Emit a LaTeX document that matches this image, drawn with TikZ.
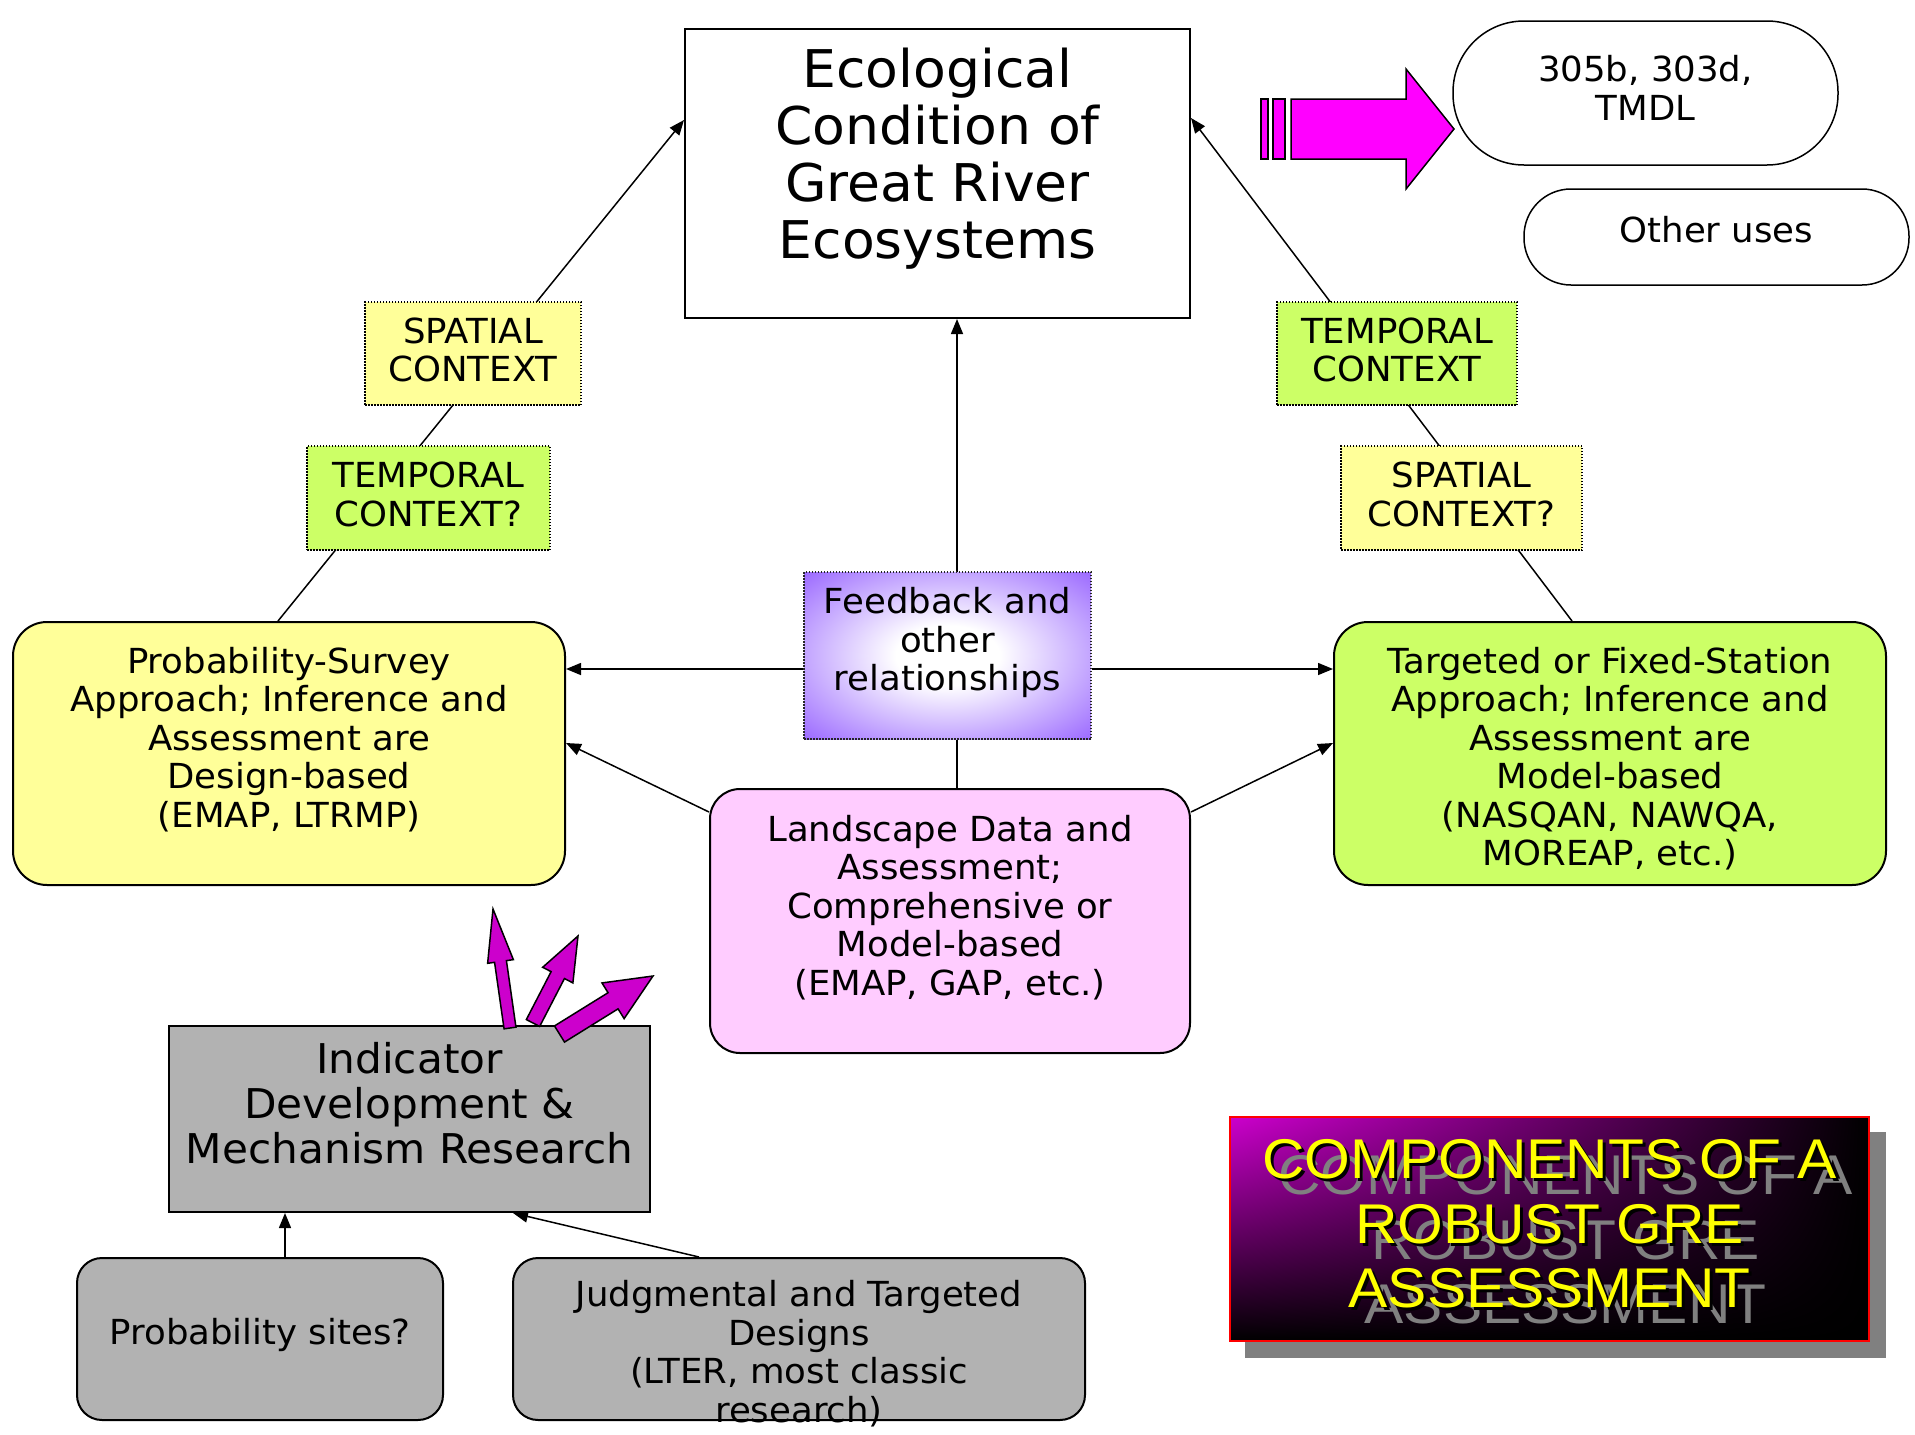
\documentclass[tikz,border=0pt]{standalone}
\usepackage{fontspec}
\setmainfont[FakeStretch=1.03]{DejaVu Sans}
\newfontfamily\titlefont[FakeStretch=1.05]{Liberation Sans}
\usetikzlibrary{arrows.meta,calc,shadings}
\pgfdeclarelayer{bg}
\pgfdeclarelayer{lines}
\pgfsetlayers{bg,lines,main}
\definecolor{yel}{HTML}{FFFF99}
\definecolor{grn}{HTML}{CCFF66}
\definecolor{pnk}{HTML}{FFCCFF}
\definecolor{gry}{HTML}{B2B2B2}
\definecolor{mag}{HTML}{FF00FF}
\definecolor{dmag}{HTML}{CC00CC}
\definecolor{fbp}{HTML}{9966FF}
\definecolor{ttlmag}{HTML}{CC00CC}
\definecolor{ttlyel}{HTML}{FFFF00}
\definecolor{shadowgray}{HTML}{808080}
\pgfdeclareradialshading{fbshade}{\pgfpoint{0bp}{0bp}}{color(0bp)=(white); color(9bp)=(white); color(36bp)=(fbp); color(50bp)=(fbp)}
\newcommand\blockarrow[5]{%
  \coordinate (bah) at ($(#2)!#5pt!(#1)$);
  \draw[magarrow] ($(#1)!#3pt!90:(#2)$) -- ($(bah)!#3pt!90:(#2)$) -- ($(bah)!#4pt!90:(#2)$) -- (#2)
    -- ($(bah)!#4pt!-90:(#2)$) -- ($(bah)!#3pt!-90:(#2)$) -- ($(#1)!#3pt!-90:(#2)$) -- cycle;}
\tikzset{
  arr/.style={line width=1.5pt,-{Triangle[length=15pt,width=12pt]}},
  boxbase/.style={draw=black,line width=2pt,inner sep=0pt},
  rbox/.style={boxbase,rounded corners=34pt},
  gbox/.style={boxbase,rounded corners=25pt,fill=gry},
  ctx/.style={draw=black,line width=1.5pt,dash pattern=on 1.5pt off 1.5pt,inner sep=0pt},
  txt/.style={align=center,font=\fontsize{34.5pt}{38.5pt}\selectfont,inner sep=0pt},
  bigtxt/.style={align=center,font=\fontsize{52pt}{57pt}\selectfont,inner sep=0pt},
  midtxt/.style={align=center,font=\fontsize{41pt}{45pt}\selectfont,inner sep=0pt},
  ttltxt/.style={align=center,font=\titlefont\fontsize{56pt}{64.5pt}\selectfont,inner sep=0pt},
  magarrow/.style={draw=black,line width=1.5pt,fill=dmag,line join=miter},
  sz/.style 2 args={minimum width=#1pt,minimum height=#2pt},
}
\begin{document}
\begin{tikzpicture}[x=1pt,y=-1pt]
\useasboundingbox (0,0) rectangle (1915,1435);
\begin{pgfonlayer}{bg}
\fill[white] (0,0) rectangle (1915,1435);
\end{pgfonlayer}

% main box
\node[boxbase,fill=white,sz={505}{289}] (eco) at (937.5,173.5) {};
\node[bigtxt] (ecot) at ([yshift=15pt]eco.center) {Ecological\\Condition of\\Great River\\Ecosystems};

% pills
\node[boxbase,line width=1.5pt,fill=white,rounded corners=71pt,sz={385}{144}] (p305) at (1645.5,93) {};
\node[txt] (p305t) at ([yshift=5pt]p305.center) {305b, 303d,\\TMDL};
\node[boxbase,line width=1.5pt,fill=white,rounded corners=47pt,sz={385}{96}] (other) at (1716.5,237) {};
\node[txt] (othert) at ([yshift=7pt]other.center) {Other uses};

% big magenta arrow
\fill[mag,draw=black,line width=1.5pt] (1261,99) rectangle (1268,159);
\fill[mag,draw=black,line width=1.5pt] (1273,99) rectangle (1285,159);
\draw[fill=mag,line width=1.5pt,line join=miter] (1291,99) -- (1406,99) -- (1406,69) -- (1454,129) -- (1406,189) -- (1406,159) -- (1291,159) -- cycle;

% context labels
\node[ctx,fill=yel,sz={216}{103}] (sc1) at (473,353.5) {};
\node[txt] (sc1t) at ([yshift=3.5pt]sc1.center) {SPATIAL\\CONTEXT};
\node[ctx,fill=grn,sz={243}{104}] (tc1) at (428.5,498) {};
\node[txt] (tc1t) at ([yshift=3.5pt]tc1.center) {TEMPORAL\\CONTEXT?};
\node[ctx,fill=grn,sz={240}{103}] (tc2) at (1397,353.5) {};
\node[txt] (tc2t) at ([yshift=3.5pt]tc2.center) {TEMPORAL\\CONTEXT};
\node[ctx,fill=yel,sz={241}{104}] (sc2) at (1461.5,498) {};
\node[txt] (sc2t) at ([yshift=3.5pt]sc2.center) {SPATIAL\\CONTEXT?};

% approach boxes
\node[rbox,fill=yel,sz={552}{263}] (ps) at (289,753.5) {};
\node[txt] (pst) at ([yshift=14pt]ps.center) {Probability-Survey\\Approach; Inference and\\Assessment are\\Design-based\\(EMAP, LTRMP)};
\node[rbox,fill=grn,sz={552}{263}] (tg) at (1610,753.5) {};
\node[txt] (tgt) at ([yshift=-5pt]tg.center) {Targeted or Fixed-Station\\Approach; Inference and\\Assessment are\\Model-based\\(NASQAN, NAWQA,\\MOREAP, etc.)};

% feedback
\node[ctx,draw=black!85,shade,shading=fbshade,sz={287}{167}] (fb) at (947.5,655.5) {};
\node[txt] (fbt) at ([yshift=13pt]fb.center) {Feedback and\\other\\relationships};

% landscape
\node[rbox,rounded corners=30pt,fill=pnk,sz={480}{264}] (ls) at (950,921) {};
\node[txt] (lst) at ([yshift=13.5pt]ls.center) {Landscape Data and\\Assessment;\\Comprehensive or\\Model-based\\(EMAP, GAP, etc.)};

% indicator
\node[boxbase,fill=gry,sz={481}{186}] (ind) at (409.5,1119) {};
\node[midtxt] (indt) at ([yshift=16pt]ind.center) {Indicator\\Development \&\\Mechanism Research};

% bottom boxes
\node[gbox,sz={366}{162}] (psites) at (260,1339) {};
\node[txt] (psitest) at ([yshift=4pt]psites.center) {Probability sites?};
\node[gbox,sz={572}{162}] (jd) at (799,1339) {};
\node[txt] (jdt) at ([yshift=-14.5pt]jd.center) {Judgmental and Targeted\\Designs\\(LTER, most classic\\research)};

% small magenta arrows
\coordinate (a1b) at (510,1028); \coordinate (a1t) at (493,909);
\coordinate (a2b) at (533,1023); \coordinate (a2t) at (578,936);
\coordinate (a3b) at (559.5,1034); \coordinate (a3t) at (653,976);
\blockarrow{a1b}{a1t}{6}{13}{53}
\blockarrow{a2b}{a2t}{7.5}{17}{44}
\blockarrow{a3b}{a3t}{9.5}{21}{47}

% title box
\node[draw=red,line width=2pt,inner sep=0pt,upper left=ttlmag,upper right=black,lower left=black,lower right=black,sz={639}{224}] (ttl) at (1549.5,1229) {};
\begin{pgfonlayer}{bg}
\fill[shadowgray] ([shift={(16,16)}]ttl.north west) rectangle ([shift={(16,16)}]ttl.south east);
\end{pgfonlayer}
\node[ttltxt,text=shadowgray] (ttlg) at ([shift={(16,11)}]ttl.center) {COMPONENTS OF A\\ROBUST GRE\\ASSESSMENT};
\node[ttltxt,text=black] (ttls) at ([shift={(3,-2)}]ttl.center) {COMPONENTS OF A\\ROBUST GRE\\ASSESSMENT};
\node[ttltxt,text=ttlyel] (ttly) at ([shift={(0,-5)}]ttl.center) {COMPONENTS OF A\\ROBUST GRE\\ASSESSMENT};

% connectors
\begin{pgfonlayer}{lines}
\draw[arr] ([xshift=-11pt]ps.north) -- ([yshift=53.5pt]eco.west);
\draw[arr] ([xshift=-38pt]tg.north) -- ([yshift=55.5pt]eco.east);
\coordinate (vt) at ([xshift=7pt]ls.north);
\draw[arr] (vt) -- (vt |- eco.south);
\coordinate (fbl) at ([yshift=-13.5pt]fb.west);
\draw[arr] (fbl) -- (fbl -| ps.east);
\coordinate (fbr) at ([yshift=-13.5pt]fb.east);
\draw[arr] (fbr) -- (fbr -| tg.west);
\draw[arr] ([yshift=109pt]ls.west) -- ([yshift=10.5pt]ps.east);
\draw[arr] ([yshift=109pt]ls.east) -- ([yshift=10.5pt]tg.west);
\coordinate (pstop) at ([xshift=25pt]psites.north);
\draw[arr] (pstop) -- (pstop |- ind.south);
\draw[arr] ([xshift=-100pt]jd.north) -- ([xshift=103.5pt]ind.south);
\end{pgfonlayer}
\end{tikzpicture}
\end{document}
